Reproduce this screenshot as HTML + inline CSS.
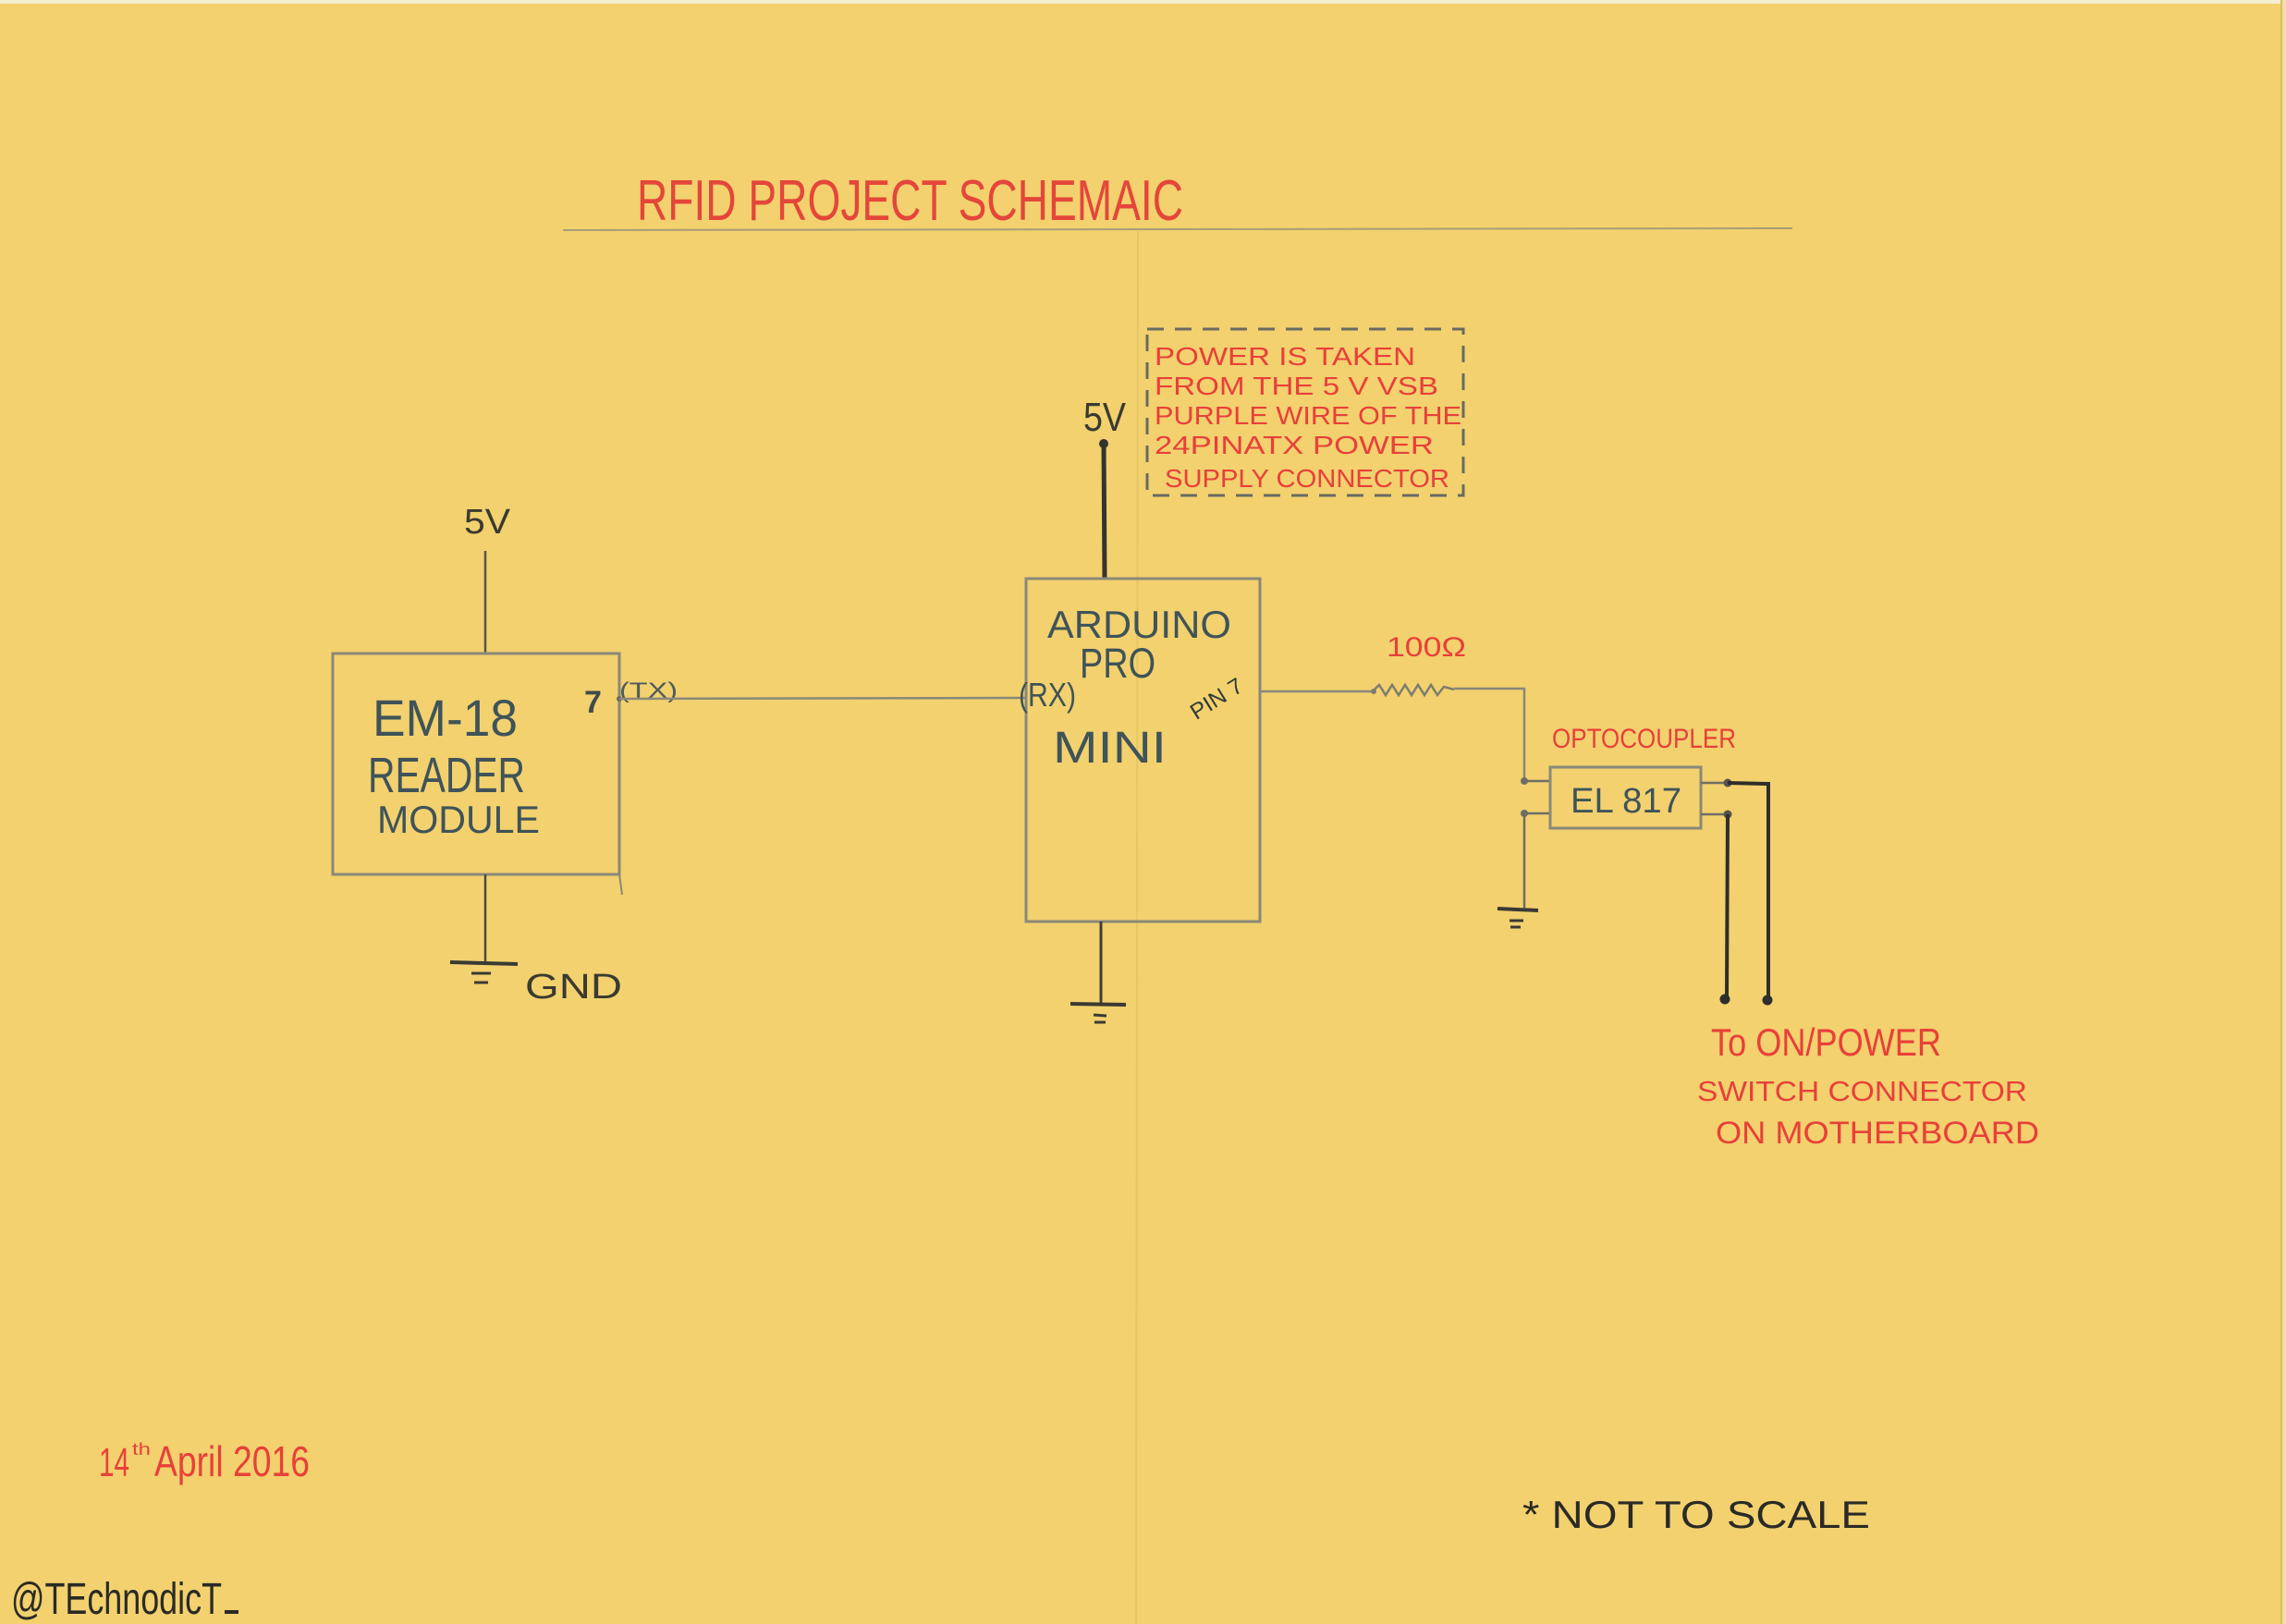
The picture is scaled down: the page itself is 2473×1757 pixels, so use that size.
<!DOCTYPE html>
<html>
<head>
<meta charset="utf-8">
<style>
  html,body{margin:0;padding:0;background:#F2D16E;}
  body{width:2473px;height:1757px;overflow:hidden;}
  svg{display:block;}
  text{font-family:"Liberation Sans",sans-serif;}
</style>
</head>
<body>
<svg width="2473" height="1757" viewBox="0 0 2473 1757" xmlns="http://www.w3.org/2000/svg">
  <!-- paper -->
  <rect x="0" y="0" width="2473" height="1757" fill="#F2D16E"/>
  <rect x="0" y="0" width="2473" height="4" fill="#F6EED0"/>
  <line x1="2468" y1="0" x2="2468" y2="1757" stroke="#D9BE66" stroke-width="2"/>
  <rect x="2469" y="0" width="4" height="1757" fill="#EFE0A8"/>
  <!-- fold line -->
  <line x1="1231" y1="250" x2="1229" y2="1757" stroke="#D8B95E" stroke-width="2" opacity="0.45"/>

  <!-- title -->
  <text x="689" y="238" font-size="62" fill="#E4463A" textLength="591" lengthAdjust="spacingAndGlyphs">RFID PROJECT SCHEMAIC</text>
  <line x1="609" y1="249" x2="1939" y2="247" stroke="#A89C78" stroke-width="2"/>

  <!-- dashed note box -->
  <rect x="1241" y="356" width="342" height="180" fill="none" stroke="#6A6A62" stroke-width="3" stroke-dasharray="18 12"/>
  <g fill="#E8403A" font-size="28">
    <text x="1249" y="395" textLength="282" lengthAdjust="spacingAndGlyphs">POWER IS TAKEN</text>
    <text x="1249" y="427" textLength="307" lengthAdjust="spacingAndGlyphs">FROM THE  5 V VSB</text>
    <text x="1249" y="459" textLength="332" lengthAdjust="spacingAndGlyphs">PURPLE WIRE OF THE</text>
    <text x="1249" y="491" textLength="302" lengthAdjust="spacingAndGlyphs">24PINATX POWER</text>
    <text x="1260" y="527" textLength="308" lengthAdjust="spacingAndGlyphs">SUPPLY CONNECTOR</text>
  </g>

  <!-- Arduino 5V -->
  <text x="1172" y="466" font-size="44" fill="#3A3A32" textLength="46" lengthAdjust="spacingAndGlyphs">5V</text>
  <line x1="1194" y1="478" x2="1195" y2="626" stroke="#333330" stroke-width="5"/>
  <circle cx="1194" cy="480" r="5" fill="#333330"/>

  <!-- EM-18 module -->
  <text x="502" y="577" font-size="38" fill="#3A3A30" textLength="50" lengthAdjust="spacingAndGlyphs">5V</text>
  <line x1="525" y1="596" x2="525" y2="707" stroke="#55554C" stroke-width="2.5"/>
  <rect x="360" y="707" width="310" height="239" fill="none" stroke="#8A887A" stroke-width="3"/>
  <line x1="670" y1="946" x2="673" y2="968" stroke="#8A887A" stroke-width="2"/>
  <g fill="#3F5359">
    <text x="403" y="796" font-size="56" textLength="157" lengthAdjust="spacingAndGlyphs">EM-18</text>
    <text x="398" y="857" font-size="54" textLength="170" lengthAdjust="spacingAndGlyphs">READER</text>
    <text x="408" y="901" font-size="42" textLength="176" lengthAdjust="spacingAndGlyphs">MODULE</text>
  </g>
  <text x="632" y="771" font-size="34" font-weight="bold" fill="#3F4A4A">7</text>
  <text x="670" y="755" font-size="24" fill="#4F5A5A" textLength="63" lengthAdjust="spacingAndGlyphs">(TX)</text>
  <circle cx="670" cy="756" r="3" fill="#6A6A60"/>
  <!-- EM GND -->
  <line x1="525" y1="946" x2="525" y2="1042" stroke="#4A4A42" stroke-width="2.5"/>
  <line x1="487" y1="1041" x2="560" y2="1043" stroke="#3A3A34" stroke-width="4"/>
  <line x1="510" y1="1053" x2="531" y2="1053" stroke="#3A3A34" stroke-width="3"/>
  <line x1="513" y1="1063" x2="528" y2="1063" stroke="#3A3A34" stroke-width="3"/>
  <text x="568" y="1080" font-size="38" fill="#3A3A30" textLength="105" lengthAdjust="spacingAndGlyphs">GND</text>

  <!-- TX -> RX wire -->
  <line x1="670" y1="756" x2="1110" y2="755" stroke="#8A887A" stroke-width="2.5"/>

  <!-- Arduino box -->
  <rect x="1110" y="626" width="253" height="371" fill="none" stroke="#8A887A" stroke-width="3"/>
  <g fill="#3F5359">
    <text x="1133" y="690" font-size="42" textLength="199" lengthAdjust="spacingAndGlyphs">ARDUINO</text>
    <text x="1168" y="733" font-size="45" textLength="82" lengthAdjust="spacingAndGlyphs">PRO</text>
    <text x="1102" y="764" font-size="36" textLength="62" lengthAdjust="spacingAndGlyphs">(RX)</text>
    <text x="1139" y="825" font-size="48" textLength="123" lengthAdjust="spacingAndGlyphs">MINI</text>
  </g>
  <text transform="translate(1316,756) rotate(-32)" x="0" y="8" font-size="24" fill="#2F3A3A" text-anchor="middle" textLength="62" lengthAdjust="spacingAndGlyphs">PIN 7</text>
  <!-- Arduino GND -->
  <line x1="1191" y1="997" x2="1191" y2="1086" stroke="#3F3F38" stroke-width="3"/>
  <line x1="1158" y1="1086" x2="1218" y2="1087" stroke="#3A3A34" stroke-width="4"/>
  <line x1="1183" y1="1098" x2="1197" y2="1099" stroke="#3A3A34" stroke-width="3"/>
  <line x1="1184" y1="1106" x2="1196" y2="1106" stroke="#3A3A34" stroke-width="3"/>

  <!-- pin7 -> resistor -> optocoupler -->
  <line x1="1363" y1="748" x2="1485" y2="748" stroke="#8A887A" stroke-width="2.5"/>
  <polyline points="1485,748 1492,741 1499,752 1506,741 1513,752 1520,741 1527,752 1534,741 1541,752 1548,741 1555,752 1562,743 1573,746" fill="none" stroke="#7E7C70" stroke-width="2.5"/>
  <circle cx="1486" cy="748" r="3" fill="#7E7C70"/>
  <text x="1500" y="710" font-size="30" fill="#E8403A" textLength="86" lengthAdjust="spacingAndGlyphs">100Ω</text>
  <polyline points="1573,745 1649,745 1649,845" fill="none" stroke="#8A887A" stroke-width="2.5"/>
  <circle cx="1649" cy="845" r="4" fill="#6E6E66"/>
  <circle cx="1649" cy="880" r="4" fill="#6E6E66"/>
  <line x1="1649" y1="845" x2="1677" y2="845" stroke="#6E6E66" stroke-width="2.5"/>
  <line x1="1649" y1="880" x2="1677" y2="880" stroke="#6E6E66" stroke-width="2.5"/>
  <line x1="1649" y1="880" x2="1649" y2="984" stroke="#6E6E66" stroke-width="2.5"/>
  <line x1="1620" y1="983" x2="1664" y2="985" stroke="#3A3A34" stroke-width="4"/>
  <line x1="1633" y1="996" x2="1648" y2="996" stroke="#3A3A34" stroke-width="3"/>
  <line x1="1634" y1="1003" x2="1645" y2="1003" stroke="#3A3A34" stroke-width="3"/>

  <!-- optocoupler -->
  <text x="1679" y="809" font-size="30" fill="#E8403A" textLength="199" lengthAdjust="spacingAndGlyphs">OPTOCOUPLER</text>
  <rect x="1677" y="830" width="163" height="66" fill="none" stroke="#8A887A" stroke-width="3"/>
  <text x="1699" y="879" font-size="38" fill="#3F5359" textLength="120" lengthAdjust="spacingAndGlyphs">EL 817</text>
  <line x1="1840" y1="847" x2="1869" y2="847" stroke="#6E6E66" stroke-width="2.5"/>
  <line x1="1840" y1="881" x2="1869" y2="881" stroke="#6E6E66" stroke-width="2.5"/>
  <circle cx="1869" cy="847" r="4.5" fill="#55554E"/>
  <circle cx="1869" cy="881" r="4.5" fill="#55554E"/>
  <polyline points="1869,847 1913,848 1913,1081" fill="none" stroke="#2E2E2A" stroke-width="4"/>
  <line x1="1869" y1="881" x2="1868" y2="1080" stroke="#2E2E2A" stroke-width="4"/>
  <circle cx="1866" cy="1081" r="5.5" fill="#2E2E2A"/>
  <circle cx="1912" cy="1082" r="5.5" fill="#2E2E2A"/>

  <!-- bottom right note -->
  <g fill="#E8403A">
    <text x="1851" y="1142" font-size="42" textLength="249" lengthAdjust="spacingAndGlyphs">To ON/POWER</text>
    <text x="1836" y="1191" font-size="31" textLength="357" lengthAdjust="spacingAndGlyphs">SWITCH CONNECTOR</text>
    <text x="1856" y="1237" font-size="34" textLength="350" lengthAdjust="spacingAndGlyphs">ON MOTHERBOARD</text>
  </g>

  <!-- date -->
  <g fill="#E8403A">
    <text x="107" y="1597" font-size="44" textLength="33" lengthAdjust="spacingAndGlyphs">14</text>
    <text x="143" y="1574" font-size="18" textLength="20" lengthAdjust="spacingAndGlyphs">th</text>
    <text x="167" y="1597" font-size="46" textLength="168" lengthAdjust="spacingAndGlyphs">April 2016</text>
  </g>

  <!-- not to scale -->
  <text x="1647" y="1653" font-size="42" fill="#2A2A26" textLength="376" lengthAdjust="spacingAndGlyphs">* NOT  TO SCALE</text>

  <!-- signature -->
  <text x="12" y="1746" font-size="48" fill="#2A2A26" textLength="228" lengthAdjust="spacingAndGlyphs">@TEchnodicT</text>
  <line x1="243" y1="1744" x2="258" y2="1744" stroke="#2A2A26" stroke-width="4"/>
</svg>
</body>
</html>
